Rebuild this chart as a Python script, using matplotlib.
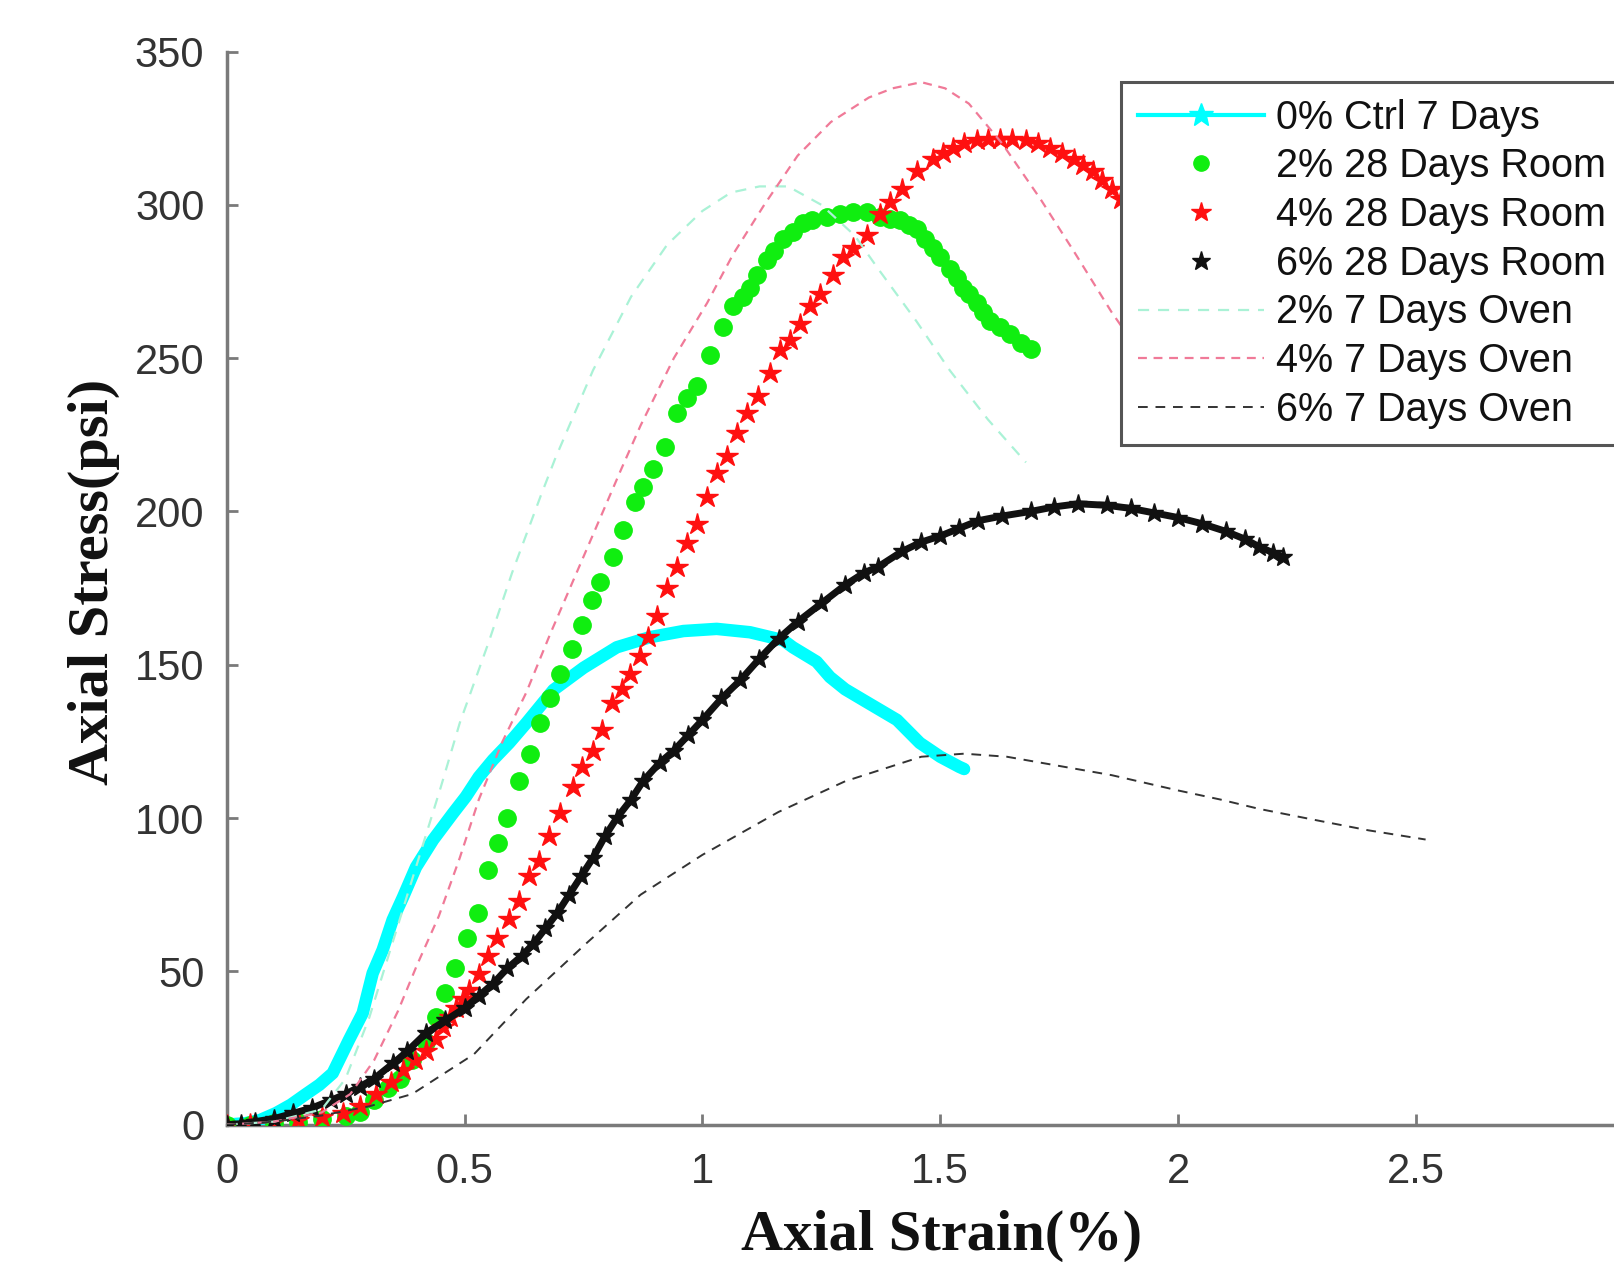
import matplotlib
matplotlib.use("Agg")
import matplotlib.pyplot as plt
from matplotlib.lines import Line2D

# ---------------- data ----------------
ctrl_x = [0, 0.04, 0.07, 0.104, 0.135, 0.167, 0.195, 0.223, 0.257, 0.286, 0.307, 0.328,
          0.349, 0.371, 0.398, 0.434, 0.476, 0.503, 0.53, 0.56, 0.594, 0.63, 0.687, 0.75,
          0.82, 0.89, 0.96, 1.03, 1.1, 1.17, 1.19, 1.24, 1.268, 1.3, 1.338, 1.409, 1.457,
          1.5, 1.54, 1.55]
ctrl_y = [0, 0.5, 1.5, 3.8, 6.5, 10, 13, 16.8, 27.6, 36.4, 49.4, 57, 66.8, 74.3, 84, 92.9,
          101.6, 107, 113.4, 119, 124.5, 131, 141.8, 149, 155.7, 159, 161, 161.7, 160.6,
          158, 155.7, 151, 146, 142, 138.5, 132, 124.5, 120, 116.7, 116]

room2_x = [0, 0.05, 0.1, 0.15, 0.2, 0.25, 0.28, 0.31, 0.34, 0.365, 0.39, 0.42, 0.44, 0.46,
           0.48, 0.505, 0.528, 0.55, 0.57, 0.59, 0.615, 0.637, 0.659, 0.68, 0.70, 0.725,
           0.746, 0.767, 0.785, 0.812, 0.834, 0.858, 0.876, 0.897, 0.921, 0.946, 0.967,
           0.988, 1.016, 1.043, 1.065, 1.085, 1.10, 1.115, 1.135, 1.15, 1.17, 1.19, 1.212,
           1.23, 1.262, 1.29, 1.316, 1.345, 1.373, 1.395, 1.415, 1.435, 1.45, 1.467, 1.485,
           1.50, 1.52, 1.535, 1.548, 1.56, 1.577, 1.59, 1.605, 1.625, 1.647, 1.67, 1.69]
room2_y = [0, 0, 0.5, 1, 2, 3, 4, 8, 12, 15, 21, 27, 35, 43, 51, 61, 69, 83, 92, 100, 112,
           121, 131, 139, 147, 155, 163, 171, 177, 185, 194, 203, 208, 214, 221, 232, 237,
           241, 251, 260, 267, 270, 273, 277, 282, 285, 289, 291, 294, 295, 296, 297,
           297.5, 297.5, 296, 295.5, 295, 293.5, 292, 289, 286, 283, 279, 276, 273, 271,
           268, 265, 262, 260, 258, 255, 253]

room4_x = [0, 0.05, 0.1, 0.15, 0.2, 0.245, 0.28, 0.314, 0.345, 0.37, 0.395, 0.42, 0.44,
           0.455, 0.47, 0.482, 0.497, 0.51, 0.53, 0.55, 0.569, 0.594, 0.615, 0.636, 0.657,
           0.678, 0.70, 0.727, 0.748, 0.77, 0.79, 0.811, 0.83, 0.848, 0.869, 0.886, 0.905,
           0.925, 0.946, 0.967, 0.988, 1.009, 1.03, 1.052, 1.072, 1.094, 1.117, 1.142,
           1.163, 1.184, 1.205, 1.226, 1.247, 1.275, 1.296, 1.316, 1.345, 1.373, 1.394,
           1.42, 1.45, 1.485, 1.505, 1.527, 1.55, 1.577, 1.60, 1.625, 1.65, 1.68, 1.705,
           1.73, 1.755, 1.78, 1.80, 1.82, 1.84, 1.86, 1.88, 1.9]
room4_y = [0, 0.3, 1, 1.5, 2.5, 3.8, 6, 10, 14, 18, 21, 24, 28, 32, 35, 38, 41, 44, 49, 55,
           61, 67, 73, 81, 86, 94, 101.6, 110, 116.8, 122, 128.7, 137.5, 142, 147, 153,
           159, 166, 175, 182, 189.6, 196, 204.7, 212.5, 218, 225.5, 232, 237.5, 245,
           252.5, 256, 261, 267, 271, 277, 283, 286, 290, 297, 301, 305, 311, 315, 317,
           318.6, 320, 321, 321.5, 321.5, 321.5, 321, 320, 318.6, 317, 315, 313, 311, 308,
           305, 302, 299]

room6_x = [0, 0.03, 0.06, 0.1, 0.14, 0.18, 0.22, 0.25, 0.28, 0.31, 0.35, 0.38, 0.42, 0.46,
           0.5, 0.53, 0.56, 0.59, 0.62, 0.645, 0.67, 0.695, 0.72, 0.745, 0.77, 0.795, 0.82,
           0.85, 0.875, 0.91, 0.94, 0.97, 1.0, 1.04, 1.08, 1.12, 1.16, 1.2, 1.25, 1.3, 1.34,
           1.37, 1.42, 1.46, 1.5, 1.54, 1.58, 1.63, 1.69, 1.74, 1.79, 1.85, 1.9, 1.95, 2.0,
           2.05, 2.1, 2.14, 2.17, 2.2, 2.22]
room6_y = [0, 0.3, 1, 2, 3.7, 5.5, 8, 10, 12.4, 15, 20, 24, 30, 34, 38, 42, 46, 51, 55, 59,
           64, 69, 75, 81, 87, 94, 100, 106, 112, 118, 122, 127, 132, 139, 145, 152, 158.5,
           164, 170, 176, 180, 182, 187, 190, 192, 194.5, 197, 198.5, 200, 201.5, 202.5,
           202, 201, 199.5, 198, 196, 193.5, 191, 188.5, 186.5, 185]

oven2_x = [0, 0.1, 0.2, 0.25, 0.3, 0.35, 0.4, 0.45, 0.49, 0.55, 0.6, 0.66, 0.69, 0.77, 0.85,
           0.926, 1.0, 1.06, 1.12, 1.18, 1.25, 1.32, 1.37, 1.45, 1.52, 1.6, 1.68]
oven2_y = [0, 1, 5, 15, 35, 60, 85, 110, 131, 157, 180, 205, 217, 246, 270, 287, 298, 304,
           306, 306, 300, 290, 279, 262, 246, 230, 216]

oven4_x = [0, 0.1, 0.2, 0.26, 0.31, 0.36, 0.40, 0.446, 0.49, 0.53, 0.58, 0.63, 0.68, 0.73,
           0.78, 0.83, 0.87, 0.94, 1.01, 1.065, 1.13, 1.2, 1.27, 1.35, 1.40, 1.46, 1.51,
           1.56, 1.63, 1.71, 1.78, 1.86, 1.95]
oven4_y = [0, 1, 4, 10, 21, 37, 52, 68, 87, 106, 125, 141, 160, 178, 196, 214, 228, 250,
           268, 284, 300, 316, 327, 335, 338, 340, 338, 333, 320, 302, 285, 265, 245]

oven6_x = [0, 0.1, 0.2, 0.3, 0.39, 0.52, 0.63, 0.755, 0.87, 1.0, 1.16, 1.3, 1.46, 1.55,
           1.64, 1.75, 1.86, 2.0, 2.09, 2.17, 2.3, 2.4, 2.52]
oven6_y = [0, 1, 3, 6, 10, 23, 41, 59, 75, 88, 102, 112, 120, 121, 120, 117, 114, 109, 106,
           103, 99, 96, 93]

labels = ["0% Ctrl 7 Days", "2% 28 Days Room", "4% 28 Days Room", "6% 28 Days Room",
          "2% 7 Days Oven", "4% 7 Days Oven", "6% 7 Days Oven"]
x_ticks = [0, 0.5, 1, 1.5, 2, 2.5]
x_tick_labels = ["0", "0.5", "1", "1.5", "2", "2.5"]
y_ticks = [0, 50, 100, 150, 200, 250, 300, 350]

# ---------------- figure ----------------
W, H = 1615, 1262
fig = plt.figure(figsize=(W / 100, H / 100), dpi=100)
ax_l = 226.6 / W
ax_r = 1654.0 / W
ax_b = 1 - 1124.7 / H
ax_t = 1 - 51.5 / H
ax = fig.add_axes([ax_l, ax_b, ax_r - ax_l, ax_t - ax_b])

c_cyan = "#00ffff"
c_green = "#10ee10"
c_red = "#ff1010"
c_black = "#111111"
c_oven2 = "#aaf2d6"
c_oven4 = "#f07a98"
c_oven6 = "#333333"

ax.plot(ctrl_x, ctrl_y, color=c_cyan, lw=9, solid_capstyle="round",
        solid_joinstyle="round", zorder=3)
ax.plot(room2_x, room2_y, ls="none", marker="o", ms=12.5, color=c_green,
        mec=c_green, zorder=3)
ax.plot(room4_x, room4_y, ls="none", marker="*", ms=16, color=c_red, mec=c_red, zorder=3)
ax.plot(room6_x, room6_y, color=c_black, lw=5, marker="*", ms=14, zorder=3)
ax.plot(oven2_x, oven2_y, color=c_oven2, lw=1.6, dashes=(5, 4), zorder=4)
ax.plot(oven4_x, oven4_y, color=c_oven4, lw=1.6, dashes=(4, 3), zorder=4)
ax.plot(oven6_x, oven6_y, color=c_oven6, lw=1.4, dashes=(5, 4), zorder=4)

ax.set_xlim(0, 3)
ax.set_ylim(0, 350)
ax.set_xticks(x_ticks)
ax.set_xticklabels(x_tick_labels)
ax.set_yticks(y_ticks)

for s in ["top", "right"]:
    ax.spines[s].set_visible(False)
for s in ["left", "bottom"]:
    ax.spines[s].set_color("#7a7a7a")
    ax.spines[s].set_linewidth(2.5)

ax.tick_params(axis="both", direction="in", length=8, width=2, color="#7a7a7a",
               labelcolor="#333333", labelsize=30)
ax.tick_params(axis="x", pad=20)
ax.tick_params(axis="y", pad=16)
for lab in ax.get_xticklabels() + ax.get_yticklabels():
    lab.set_fontfamily("Liberation Sans")

lab_font = dict(family="Liberation Serif", weight="bold", size=42, color="#111111")
ax.set_xlabel("Axial Strain(%)", **lab_font)
ax.set_ylabel("Axial Stress(psi)", **lab_font)
ax.xaxis.set_label_coords((942 - 226.6) / (1654 - 226.6), -(1210 - 1124.7) / (1124.7 - 51.5))
ax.yaxis.set_label_coords(-(226.6 - 120) / (1654 - 226.6), (1124.7 - 582) / (1124.7 - 51.5))

handles = [
    Line2D([], [], color=c_cyan, lw=3, marker="*", ms=18),
    Line2D([], [], ls="none", color=c_green, marker="o", ms=11),
    Line2D([], [], ls="none", color=c_red, marker="*", ms=15),
    Line2D([], [], ls="none", color=c_black, marker="*", ms=14),
    Line2D([], [], color=c_oven2, lw=1.6, dashes=(5, 4)),
    Line2D([], [], color=c_oven4, lw=1.6, dashes=(4, 3)),
    Line2D([], [], color=c_oven6, lw=1.4, dashes=(5, 4)),
]
leg = ax.legend(handles, labels, loc="upper left",
                bbox_to_anchor=(1121 / W, 1 - 82 / H), bbox_transform=fig.transFigure,
                borderaxespad=0, frameon=True, fancybox=False, framealpha=1,
                edgecolor="#555555", prop=dict(family="Liberation Sans", size=28.5),
                handlelength=3.2, handletextpad=0.3, borderpad=0.42, labelspacing=0.27)
leg.get_frame().set_linewidth(2.2)
leg.set_zorder(10)
for t in leg.get_texts():
    t.set_color("#111111")

fig.savefig("out.png", dpi=100)
